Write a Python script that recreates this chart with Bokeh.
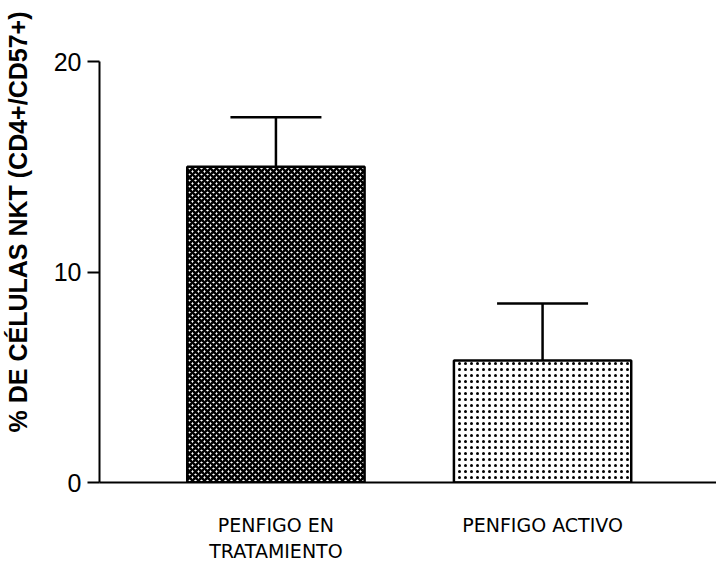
import numpy as np
from bokeh.plotting import figure
from bokeh.models import (ColumnDataSource, Range1d, FixedTicker, Whisker, TeeHead, Title)
from bokeh.embed import file_html
from bokeh.resources import INLINE

categories = ["PENFIGO EN\nTRATAMIENTO", "PENFIGO ACTIVO"]
means = [15.0, 5.8]
errors = [2.35, 2.7]
y_ticks = [0, 10, 20]
y_label = "% DE CÉLULAS NKT (CD4+/CD57+)"

xs = list(range(1, len(categories) + 1))
upper = [m + e for m, e in zip(means, errors)]

p = figure(width=716, height=564, output_backend="svg", toolbar_location=None,
           x_range=Range1d(0.3383, 2.6523), y_range=Range1d(0, 20),
           min_border_left=97, min_border_top=61, min_border_bottom=81, min_border_right=0)
p.outline_line_color = None
p.xgrid.grid_line_color = None
p.ygrid.grid_line_color = None
p.background_fill_color = "white"
p.border_fill_color = "white"

src1 = ColumnDataSource(dict(x=[xs[0]], top=[means[0]]))
src2 = ColumnDataSource(dict(x=[xs[1]], top=[means[1]]))
p.vbar(x="x", top="top", bottom=0, width=0.665, source=src1,
       fill_color="white", line_color="black", line_width=2.5,
       hatch_pattern="diagonal_cross", hatch_color="black", hatch_scale=6, hatch_weight=2.6)
p.vbar(x="x", top="top", bottom=0, width=0.665, source=src2,
       fill_color="white", line_color="black", line_width=2.5,
       hatch_pattern="dot", hatch_color="black", hatch_scale=6, hatch_weight=1.5)

wsrc = ColumnDataSource(dict(base=xs, lower=means, upper=upper))
w = Whisker(base="base", lower="lower", upper="upper", source=wsrc, dimension="height",
            line_color="black", line_width=2.5,
            upper_head=TeeHead(size=91, line_color="black", line_width=2.5), lower_head=None)
p.add_layout(w)

# y axis
p.yaxis.ticker = FixedTicker(ticks=y_ticks)
p.yaxis.minor_tick_line_color = None
p.yaxis.major_tick_in = 0
p.yaxis.major_tick_out = 12
p.yaxis.axis_line_width = 2
p.yaxis.major_tick_line_width = 2
p.yaxis.major_label_text_font = "Liberation Sans"
p.yaxis.major_label_text_font_size = "25px"
p.yaxis.major_label_text_color = "black"
p.yaxis.major_label_standoff = 6

# x axis
p.xaxis.ticker = FixedTicker(ticks=xs)
p.xaxis.major_label_overrides = {x: c for x, c in zip(xs, categories)}
p.xaxis.minor_tick_line_color = None
p.xaxis.major_tick_line_color = None
p.xaxis.axis_line_width = 2
p.xaxis.major_label_text_font = "DejaVu Sans"
p.xaxis.major_label_text_font_size = "19px"
p.xaxis.major_label_text_color = "black"
p.xaxis.major_label_standoff = 25

# spacer between tick labels and the rotated y title
spacer = Title(text=" ", text_font_size="1px", standoff=13)
p.add_layout(spacer, "left")

ytitle = Title(text=y_label, align="right", offset=-50, vertical_align="middle",
               text_font="Liberation Sans", text_font_style="bold",
               text_font_size="25px", text_color="black", standoff=4)
p.add_layout(ytitle, "left")

open("out.html", "w").write(file_html(p, INLINE))
